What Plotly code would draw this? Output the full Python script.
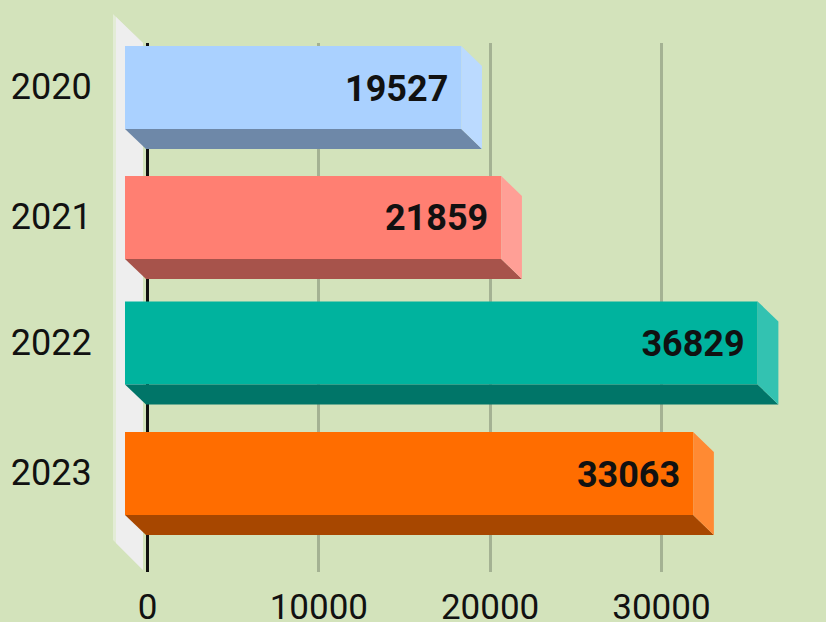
import plotly.graph_objects as go

years = ["2020", "2021", "2022", "2023"]
values = [19527, 21859, 36829, 33063]
row_pos = [0.0, 1.01, 1.985, 3.0]
front_colors = ["#AAD1FF", "#FF7F72", "#00B39E", "#FF6D00"]
side_colors = ["#BBDAFF", "#FF9F96", "#33C2B1", "#FF8A33"]
bottom_colors = ["#6E88A8", "#A7534B", "#007568", "#A74700"]
x_ticks = [0, 10000, 20000, 30000]

BG = "#D3E3BB"
GRID = "#A4B293"
WALL = "#EEEEEE"
WALL_EDGE = "#E3ECD6"
FONT = "Roboto"

W, H = 826, 622
L, T, B = 108, 43, 50
ZERO_PX = 147.5
PX_PER_UNIT = 0.01713
ROW_PX = 128.7
ROW0_PX = 87.5

def ux(px):
    return px / PX_PER_UNIT

def uy(px):
    return px / ROW_PX

x_range = [-ux(ZERO_PX - L), ux(W - ZERO_PX)]
y_range = [uy(H - B - ROW0_PX), uy(T - ROW0_PX)]

half = uy(41.5)
dx_right = ux(20.7)
dy = uy(20)
front_left = -ux(22.5)
back_left = -ux(1.5)

def poly(xs, ys, color):
    return go.Scatter(
        x=xs, y=ys, mode="lines", fill="toself", fillcolor=color,
        line=dict(width=0, color=color), hoverinfo="skip",
        showlegend=False, cliponaxis=False,
    )

def wall_shape(pts, color):
    plot_w, plot_h = W - L, H - T - B
    path = "M " + " L ".join(
        f"{(px - L) / plot_w:.5f},{1 - (py - T) / plot_h:.5f}" for px, py in pts
    ) + " Z"
    return dict(type="path", path=path, xref="paper", yref="paper",
                fillcolor=color, line=dict(width=0), layer="below")

fig = go.Figure()

for pos, v, fc, sc, bc in zip(row_pos, values, front_colors, side_colors, bottom_colors):
    top, bot = pos - half, pos + half
    fr = v - dx_right
    fig.add_trace(poly([front_left, fr, fr, front_left], [top, top, bot, bot], fc))
    fig.add_trace(poly([front_left, fr, v, back_left], [bot, bot, bot + dy, bot + dy], bc))
    fig.add_trace(poly([fr, v, v, fr], [top, top + dy, bot + dy, bot], sc))

fig.add_trace(go.Scatter(
    x=[v - dx_right - ux(13) for v in values],
    y=[p + uy(4) for p in row_pos],
    mode="text",
    text=[str(v) for v in values],
    textposition="middle left",
    textfont=dict(family=FONT, size=36, color="#111111", weight="bold"),
    hoverinfo="skip", showlegend=False, cliponaxis=False,
))

fig.update_layout(
    width=W, height=H, autosize=False,
    margin=dict(l=L, r=0, t=T, b=B, pad=0),
    paper_bgcolor=BG, plot_bgcolor="rgba(0,0,0,0)",
    showlegend=False,
    shapes=[
        wall_shape([(113, 14), (143, 43), (143, 570), (113, 540)], WALL_EDGE),
        wall_shape([(116, 17), (143, 43), (143, 570), (116, 543)], WALL),
    ],
    xaxis=dict(
        range=x_range, tickmode="array", tickvals=x_ticks,
        ticktext=[str(t) for t in x_ticks], automargin=False,
        showgrid=True, gridcolor=GRID, gridwidth=3,
        zeroline=True, zerolinecolor="#111111", zerolinewidth=3,
        showline=False, ticks="outside", ticklen=4, tickwidth=1,
        tickcolor="rgba(0,0,0,0)", layer="below traces",
        tickfont=dict(family=FONT, size=35, color="#111111"),
    ),
    yaxis=dict(
        range=y_range, tickmode="array",
        tickvals=[p - uy(1) for p in row_pos], ticktext=years,
        automargin=False,
        showgrid=False, zeroline=False, showline=False,
        ticks="outside", ticklen=8, tickwidth=1, tickcolor="rgba(0,0,0,0)",
        tickfont=dict(family=FONT, size=36, color="#111111"),
    ),
)

fig.write_html(
    "out.html",
    config={"displayModeBar": False},
    post_script="document.body.style.margin='0';document.body.style.overflow='hidden';",
)
